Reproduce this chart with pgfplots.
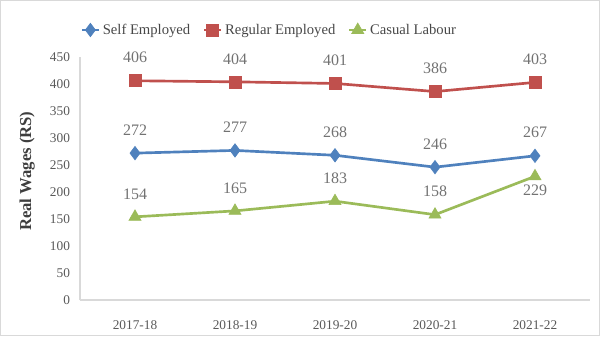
\documentclass[border=0pt]{standalone}
\usepackage{pgfplots}
\pgfplotsset{compat=1.18}
\usepackage{fontspec}
\setmainfont{Liberation Serif}
\definecolor{sblue}{HTML}{4F81BD}
\definecolor{sred}{HTML}{C0504D}
\definecolor{sgreen}{HTML}{9BBB59}
\definecolor{tgray}{HTML}{595959}
\definecolor{agray}{HTML}{D9D9D9}
\begin{document}
\begin{tikzpicture}
\useasboundingbox (0,0) rectangle (450pt,252pt);
\draw[agray, line width=0.75pt] (0.4pt,0.4pt) rectangle (449.6pt,251.6pt);
\begin{axis}[
  at={(60pt,27pt)}, anchor=south west,
  scale only axis, width=382.5pt, height=182.25pt,
  xmin=-0.55, xmax=4.55, ymin=0, ymax=450,
  xtick={0,1,2,3,4},
  xticklabels={2017-18,2018-19,2019-20,2020-21,2021-22},
  ytick={0,50,...,450},
  axis x line*=bottom, axis y line*=left,
  axis line style={agray, line width=0.75pt, -},
  major tick length=0pt,
  tick label style={font=\fontsize{10}{12}\selectfont, text=tgray},
  /pgf/number format/assume math mode=true,
  xticklabel style={yshift=-12pt},
  yticklabel style={xshift=-4pt},
  ylabel={\textbf{Real Wages (RS)}},
  ylabel style={at={(ticklabel cs:0.53)}, font=\fontsize{12.5}{14}\selectfont, text=tgray!70!black, yshift=4.5pt},
  legend columns=3,
  legend style={at={(0.372,1)}, anchor=center, yshift=20.25pt, draw=none, fill=none,
    font=\fontsize{11}{13}\selectfont, text=tgray!80!black,
    /tikz/every even column/.append style={column sep=7.5pt}},
  legend cell align=left,
  legend image code/.code={\draw[mark repeat=2,mark phase=2] plot coordinates {(0cm,0cm) (0.22cm,0cm) (0.44cm,0cm)};},
  every node near coord/.append style={font=\fontsize{12}{14}\selectfont, text=tgray!85, anchor=south, inner sep=0pt, yshift=13pt},
]
\addplot[sblue, line width=2pt, mark=diamond*, mark size=5pt, mark options={fill=sblue, solid, line width=0.5pt}, nodes near coords]
  coordinates {(0,272) (1,277) (2,268) (3,246) (4,267)};
\addlegendentry{Self Employed}
\addplot[sred, line width=2pt, mark=square*, mark size=4.5pt, mark options={fill=sred, solid, line width=0.5pt}, nodes near coords]
  coordinates {(0,406) (1,404) (2,401) (3,386) (4,403)};
\addlegendentry{Regular Employed}
\addplot[sgreen, line width=2pt, mark=triangle*, mark size=5.2pt, mark options={fill=sgreen, solid, line width=0.5pt}]
  coordinates {(0,154) (1,165) (2,183) (3,158) (4,229)};
\addlegendentry{Casual Labour}
\addplot[draw=none, mark=none, nodes near coords, forget plot]
  coordinates {(0,154) (1,165) (2,183) (3,158)};
\addplot[draw=none, mark=none, nodes near coords, forget plot,
  every node near coord/.append style={anchor=north, yshift=-19pt}]
  coordinates {(4,229)};
\end{axis}
\end{tikzpicture}
\end{document}
